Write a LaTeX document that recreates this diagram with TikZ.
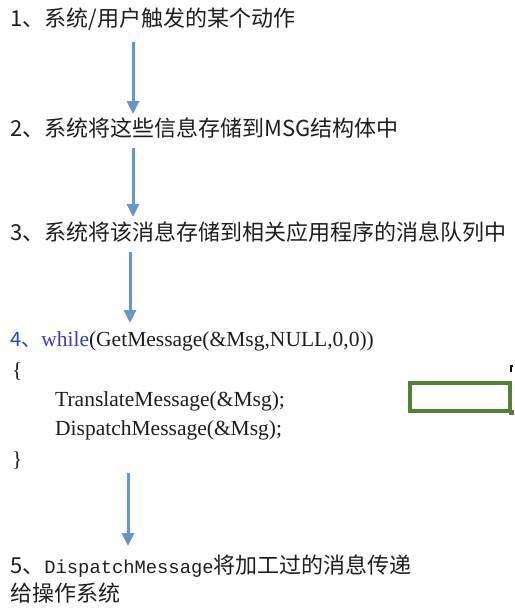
\documentclass[tikz,border=0pt]{standalone}
\usepackage{fontspec}
\usetikzlibrary{arrows.meta}
\setmainfont{Liberation Serif}
\newfontfamily\cjk{Noto Sans CJK SC}
\newfontfamily\monof{Liberation Mono}
\definecolor{arrowblue}{RGB}{100,152,205}
\definecolor{boxgreen}{RGB}{84,130,53}
\definecolor{numblue}{RGB}{40,70,190}
\definecolor{kwblue}{RGB}{60,60,170}
\definecolor{ink}{RGB}{30,30,30}
\begin{document}
\begin{tikzpicture}[x=1pt,y=-1pt,
  txt/.style={anchor=west,inner sep=0pt,text=ink,font=\cjk\fontsize{22}{26}\selectfont},
  code/.style={anchor=west,inner sep=0pt,text=ink,font=\fontsize{21.5}{24}\selectfont},
  flow/.style={draw=arrowblue,line width=3pt,-{Triangle[width=12pt,length=13pt]},arrowblue}]
\useasboundingbox (0,0) rectangle (514,613);
\fill[white] (0,0) rectangle (514,613);
\node[txt] (t1) at (10,19) {1、系统/用户触发的某个动作};
\node[txt] (t2) at (10,128) {2、系统将这些信息存储到MSG结构体中};
\node[txt] (t3) at (10,232) {3、系统将该消息存储到相关应用程序的消息队列中};
\node[code] (c1) at (10,341) {{\cjk\fontsize{20}{24}\selectfont\color{numblue}4、}{\color{kwblue}while}(GetMessage(\&Msg,NULL,0,0))};
\node[code] (c2) at (12,371) {\{};
\node[code] (c3) at (55,401) {TranslateMessage(\&Msg);};
\node[code] (c4) at (55,430) {DispatchMessage(\&Msg);};
\node[code] (c5) at (12,460) {\}};
\node[txt] (t5) at (10,566) {5、{\monof\fontsize{18.8}{24}\selectfont DispatchMessage}将加工过的消息传递};
\node[txt] (t6) at (10,593) {给操作系统};
\coordinate (a1s) at (133,42);  \coordinate (a1e) at (133,114);
\coordinate (a2s) at (133,148); \coordinate (a2e) at (133,217);
\coordinate (a3s) at (130,252); \coordinate (a3e) at (130,323);
\coordinate (a4s) at (128,473); \coordinate (a4e) at (128,546);
\draw[flow] (a1s) -- (a1e);
\draw[flow] (a2s) -- (a2e);
\draw[flow] (a3s) -- (a3e);
\draw[flow] (a4s) -- (a4e);
\node[draw=boxgreen,line width=3.5pt,minimum width=100pt,minimum height=28pt,inner sep=0pt] (gbox) at (460,397) {};
\fill[boxgreen] (509,410) rectangle (514,415);
\draw[black,line width=1.5pt] (513,366) -- (511,366) -- (511,372);
\end{tikzpicture}
\end{document}
